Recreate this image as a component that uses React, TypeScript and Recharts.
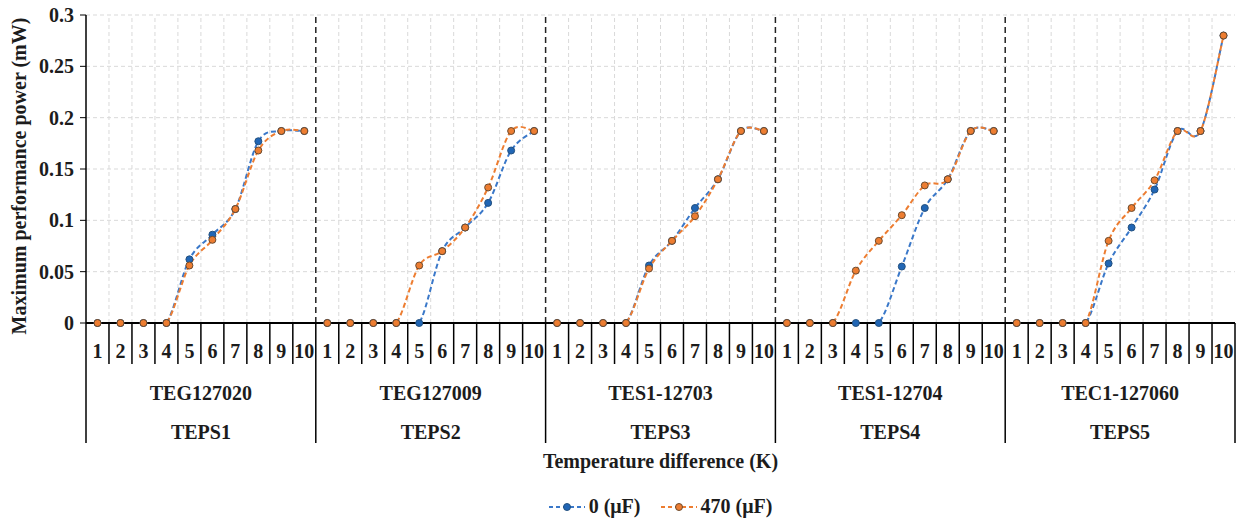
import React from "react";
import {
  LineChart,
  Line,
  XAxis,
  YAxis,
  CartesianGrid,
  ReferenceLine,
  Legend,
} from "recharts";

const deltaT = [1, 2, 3, 4, 5, 6, 7, 8, 9, 10];
const modules = ["TEG127020", "TEG127009", "TES1-12703", "TES1-12704", "TEC1-127060"];
const systems = ["TEPS1", "TEPS2", "TEPS3", "TEPS4", "TEPS5"];
const seriesNames = ["0 (μF)", "470 (μF)"];

// maximum performance power (mW), one list per TEPS
const cap0 = [
  [0, 0, 0, 0, 0.062, 0.086, 0.111, 0.177, 0.187, 0.187],
  [0, 0, 0, 0, 0, 0.07, 0.093, 0.117, 0.168, 0.187],
  [0, 0, 0, 0, 0.056, 0.08, 0.112, 0.14, 0.187, 0.187],
  [0, 0, 0, 0, 0, 0.055, 0.112, 0.14, 0.187, 0.187],
  [0, 0, 0, 0, 0.058, 0.093, 0.13, 0.187, 0.187, 0.28],
];
const cap470 = [
  [0, 0, 0, 0, 0.056, 0.081, 0.111, 0.168, 0.187, 0.187],
  [0, 0, 0, 0, 0.056, 0.07, 0.093, 0.132, 0.187, 0.187],
  [0, 0, 0, 0, 0.053, 0.08, 0.104, 0.14, 0.187, 0.187],
  [0, 0, 0, 0.051, 0.08, 0.105, 0.134, 0.14, 0.187, 0.187],
  [0, 0, 0, 0, 0.08, 0.112, 0.139, 0.187, 0.187, 0.28],
];
const yTicks = [0, 0.05, 0.1, 0.15, 0.2, 0.25, 0.3];

const FONT = '"Liberation Serif", "Times New Roman", serif';
const FS = 20;
const TEXT = "#1c1c1c";
const BLUE = "#3a78c9";
const BLUE_DOT = "#2166b5";
const ORANGE = "#ed7d31";

const perGroup = deltaT.length;
const total = perGroup * modules.length;

// one row per category, with a null row between groups so the lines break
const rows: { x: number; c0: number | null; c470: number | null }[] = [];
modules.forEach((_, g) => {
  deltaT.forEach((_, i) => {
    rows.push({ x: g * perGroup + i + 1, c0: cap0[g][i], c470: cap470[g][i] });
  });
  if (g < modules.length - 1) rows.push({ x: (g + 1) * perGroup + 0.5, c0: null, c470: null });
});

const edges = Array.from({ length: total + 1 }, (_, i) => i + 0.5);
const xTicks = [...edges, ...Array.from({ length: total }, (_, i) => i + 1)].sort((a, b) => a - b);

// Excel-like smoothed line (Catmull-Rom style bezier)
function excelCurve(context: any) {
  let pts: number[][] = [];
  return {
    areaStart() {},
    areaEnd() {},
    lineStart() {
      pts = [];
    },
    point(x: number, y: number) {
      pts.push([+x, +y]);
    },
    lineEnd() {
      const n = pts.length;
      if (!n) return;
      context.moveTo(pts[0][0], pts[0][1]);
      for (let i = 0; i < n - 1; i++) {
        const p0 = pts[Math.max(i - 1, 0)];
        const p1 = pts[i];
        const p2 = pts[i + 1];
        const p3 = pts[Math.min(i + 2, n - 1)];
        context.bezierCurveTo(
          p1[0] + (p2[0] - p0[0]) / 6,
          p1[1] + (p2[1] - p0[1]) / 6,
          p2[0] - (p3[0] - p1[0]) / 6,
          p2[1] - (p3[1] - p1[1]) / 6,
          p2[0],
          p2[1]
        );
      }
    },
  };
}

function XTick({ x, y, payload }: any) {
  const v = payload.value as number;
  const textStyle = { fontFamily: FONT, fontWeight: 700, fill: TEXT };
  if (Number.isInteger(v)) {
    return (
      <text x={x} y={y + 28} textAnchor="middle" dominantBaseline="central" fontSize={FS} style={textStyle}>
        {((v - 1) % perGroup) + 1}
      </text>
    );
  }
  const k = v - 0.5;
  const isEdge = k % perGroup === 0;
  const g = Math.floor(k / perGroup);
  return (
    <g>
      <line x1={x} y1={y} x2={x} y2={y + (isEdge ? 120 : 41)} stroke="#000" strokeWidth={1.5} />
      {k % perGroup === perGroup / 2 && (
        <>
          <text x={x} y={y + 70} textAnchor="middle" dominantBaseline="central" fontSize={FS} style={textStyle}>
            {modules[g]}
          </text>
          <text x={x} y={y + 109} textAnchor="middle" dominantBaseline="central" fontSize={FS} style={textStyle}>
            {systems[g]}
          </text>
        </>
      )}
    </g>
  );
}

function LegendIcon({ color, dot, edge }: { color: string; dot: string; edge: string }) {
  return (
    <svg width={36} height={12} style={{ marginRight: 4 }}>
      <line x1={0} y1={6} x2={36} y2={6} stroke={color} strokeWidth={2} strokeDasharray="4 3" />
      <circle cx={18} cy={6} r={3.5} fill={dot} stroke={edge} strokeWidth={1} />
    </svg>
  );
}

function ChartLegend() {
  return (
    <div
      style={{
        paddingLeft: 86,
        marginTop: 5,
        display: "flex",
        justifyContent: "center",
        alignItems: "center",
        gap: 20,
        fontFamily: FONT,
        fontWeight: 700,
        fontSize: FS,
        color: TEXT,
      }}
    >
      <span style={{ display: "flex", alignItems: "center" }}>
        <LegendIcon color={BLUE} dot={BLUE_DOT} edge="#24517f" />
        {seriesNames[0]}
      </span>
      <span style={{ display: "flex", alignItems: "center" }}>
        <LegendIcon color={ORANGE} dot={ORANGE} edge="#6b4a2e" />
        {seriesNames[1]}
      </span>
    </div>
  );
}

export default function App() {
  return (
    <div style={{ position: "absolute", left: 0, top: 0, background: "#fff" }}>
      <LineChart
        width={1237}
        height={522}
        data={rows}
        margin={{ top: 15, right: 2, bottom: 0, left: 0 }}
        style={{ fontFamily: FONT }}
      >
        <CartesianGrid vertical={false} stroke="#d9d9d9" strokeDasharray="4 3" />
        {edges
          .filter((e) => e > 0.5 && e < total + 0.5 && (e - 0.5) % perGroup !== 0)
          .map((e) => (
            <ReferenceLine key={e} x={e} stroke="#d9d9d9" strokeDasharray="4 3" />
          ))}
        {edges
          .filter((e) => e > 0.5 && e < total + 0.5 && (e - 0.5) % perGroup === 0)
          .map((e) => (
            <ReferenceLine key={e} x={e} stroke="#222" strokeWidth={1.5} strokeDasharray="6 4" />
          ))}
        <XAxis
          dataKey="x"
          type="number"
          domain={[0.5, total + 0.5]}
          ticks={xTicks}
          interval={0}
          tick={<XTick />}
          tickLine={false}
          tickSize={0}
          tickMargin={0}
          height={167}
          axisLine={{ stroke: "#000", strokeWidth: 2 }}
          label={{
            content: ({ viewBox }: any) => (
              <text
                x={viewBox.x + viewBox.width / 2}
                y={viewBox.y + 138}
                textAnchor="middle"
                dominantBaseline="central"
                fontSize={FS}
                fontWeight={700}
                fill={TEXT}
                fontFamily={FONT}
              >
                Temperature difference (K)
              </text>
            ),
          }}
        />
        <YAxis
          type="number"
          domain={[0, 0.3]}
          allowDataOverflow
          ticks={yTicks}
          width={86}
          tick={{ fontSize: FS, fontWeight: 700, fill: TEXT, fontFamily: FONT }}
          tickLine={{ stroke: "#000" }}
          tickSize={6}
          tickMargin={6}
          axisLine={{ stroke: "#000", strokeWidth: 1.5 }}
          label={{
            content: ({ viewBox }: any) => (
              <text
                transform={`translate(${viewBox.x + 19}, ${viewBox.y + viewBox.height / 2 + 7}) rotate(-90)`}
                textAnchor="middle"
                dominantBaseline="central"
                fontSize={FS}
                fontWeight={700}
                fill={TEXT}
                fontFamily={FONT}
              >
                Maximum performance power (mW)
              </text>
            ),
          }}
        />
        <Legend verticalAlign="bottom" height={32} content={() => <ChartLegend />} />
        <Line
          dataKey="c0"
          name={seriesNames[0]}
          type={excelCurve as any}
          stroke={BLUE}
          strokeWidth={2}
          strokeDasharray="5 3"
          dot={{ r: 3.5, fill: BLUE_DOT, stroke: "#24517f", strokeWidth: 1, strokeDasharray: "", clipDot: false }}
          connectNulls={false}
          isAnimationActive={false}
        />
        <Line
          dataKey="c470"
          name={seriesNames[1]}
          type={excelCurve as any}
          stroke={ORANGE}
          strokeWidth={2}
          strokeDasharray="5 3"
          dot={{ r: 3.5, fill: ORANGE, stroke: "#6b4a2e", strokeWidth: 1, strokeDasharray: "", clipDot: false }}
          connectNulls={false}
          isAnimationActive={false}
        />
      </LineChart>
    </div>
  );
}
